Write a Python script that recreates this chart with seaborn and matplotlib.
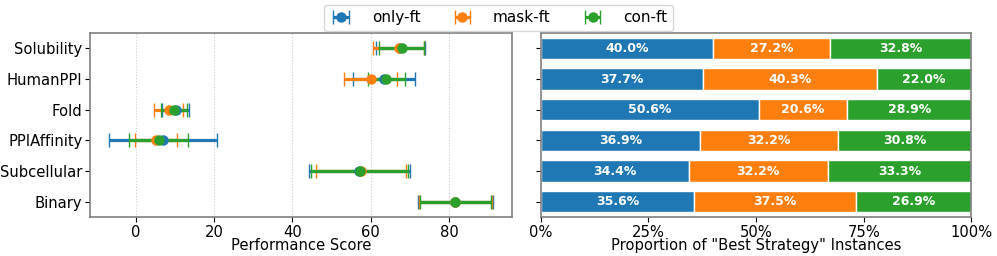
import numpy as np
import pandas as pd
import matplotlib
matplotlib.use("Agg")
import matplotlib.pyplot as plt
import seaborn as sns
from matplotlib.ticker import PercentFormatter

tasks = ["Solubility", "HumanPPI", "Fold", "PPIAffinity", "Subcellular", "Binary"]
strategies = ["only-ft", "mask-ft", "con-ft"]

only_mean = [67.6, 63.3, 10.2, 7.0, 57.1, 81.6]
only_err = [6.35, 7.9, 3.4, 13.8, 12.9, 9.6]
mask_mean = [67.1, 60.0, 8.4, 5.1, 57.6, 81.65]
mask_err = [6.4, 6.7, 3.7, 5.4, 11.5, 9.35]
con_mean = [67.9, 64.0, 9.8, 5.8, 57.2, 81.65]
con_err = [5.8, 4.7, 3.3, 7.6, 12.4, 9.15]

only_prop = [40.0, 37.7, 50.6, 36.9, 34.4, 35.6]
mask_prop = [27.2, 40.3, 20.6, 32.2, 32.2, 37.5]
con_prop = [32.8, 22.0, 28.9, 30.8, 33.3, 26.9]

sns.set_theme(style="white")
plt.rcParams['font.family'] = ['DejaVu Sans']
plt.rcParams.update({'text.color': 'black', 'axes.labelcolor': 'black',
                     'xtick.color': 'black', 'ytick.color': 'black'})

colors = sns.color_palette("tab10", 3)
means = [only_mean, mask_mean, con_mean]
errs = [only_err, mask_err, con_err]
props = [only_prop, mask_prop, con_prop]

FS = 10.6

fig = plt.figure(figsize=(9.97, 2.56), dpi=100)
ax1 = fig.add_axes([0.0903, 0.152, 0.4233, 0.719])
ax2 = fig.add_axes([0.5425, 0.152, 0.4318, 0.719], sharey=ax1)

ypos = np.arange(len(tasks))
handles = []
for m, e, c, name in zip(means, errs, colors, strategies):
    h = ax1.errorbar(m, ypos, xerr=e, fmt='o', color=c, ecolor=c, elinewidth=2.3,
                     markersize=6.5, capsize=5, capthick=1, label=name)
    handles.append(h)
ax1.set_yticks(ypos)
ax1.set_yticklabels(tasks)
ax1.set_ylim(len(tasks) - 0.5, -0.5)
ax1.set_xlabel("Performance Score", fontsize=FS, labelpad=-1)
ax1.xaxis.grid(True, linestyle=':', color='#cccccc', linewidth=0.8)
ax1.set_axisbelow(True)
ax1.tick_params(axis='both', labelsize=FS, length=3.5, width=0.8, left=True, bottom=True, pad=2)

left = np.zeros(len(tasks))
for p, c in zip(props, colors):
    vals = np.array(p) / 100.0
    bars = ax2.barh(ypos, vals, left=left, color=c, edgecolor='white', linewidth=1, height=0.7)
    for b, v in zip(bars, vals):
        ax2.text(b.get_x() + b.get_width() / 2, b.get_y() + b.get_height() / 2,
                 f"{v*100:.1f}%", ha='center', va='center', color='white',
                 fontweight='bold', fontsize=9)
    left += vals
ax2.set_xlim(0, 1)
ax2.xaxis.set_major_formatter(PercentFormatter(1.0, decimals=0))
ax2.set_xticks([0, 0.25, 0.5, 0.75, 1.0])
ax2.set_xlabel('Proportion of "Best Strategy" Instances', fontsize=FS, labelpad=-1)
ax2.tick_params(axis='both', labelsize=FS, length=3.5, width=0.8, left=True, bottom=True, pad=2)
plt.setp(ax2.get_yticklabels(), visible=False)

for ax in (ax1, ax2):
    for s in ax.spines.values():
        s.set_color('#808080')
        s.set_linewidth(1.2)

fig.legend(handles=handles, labels=strategies, loc='upper center', ncol=3,
           bbox_to_anchor=(0.5, 1.01), fontsize=11, frameon=True,
           columnspacing=2.0, handletextpad=1.25, handlelength=1.5, borderpad=0.35)

fig.savefig("out.png", dpi=100)
